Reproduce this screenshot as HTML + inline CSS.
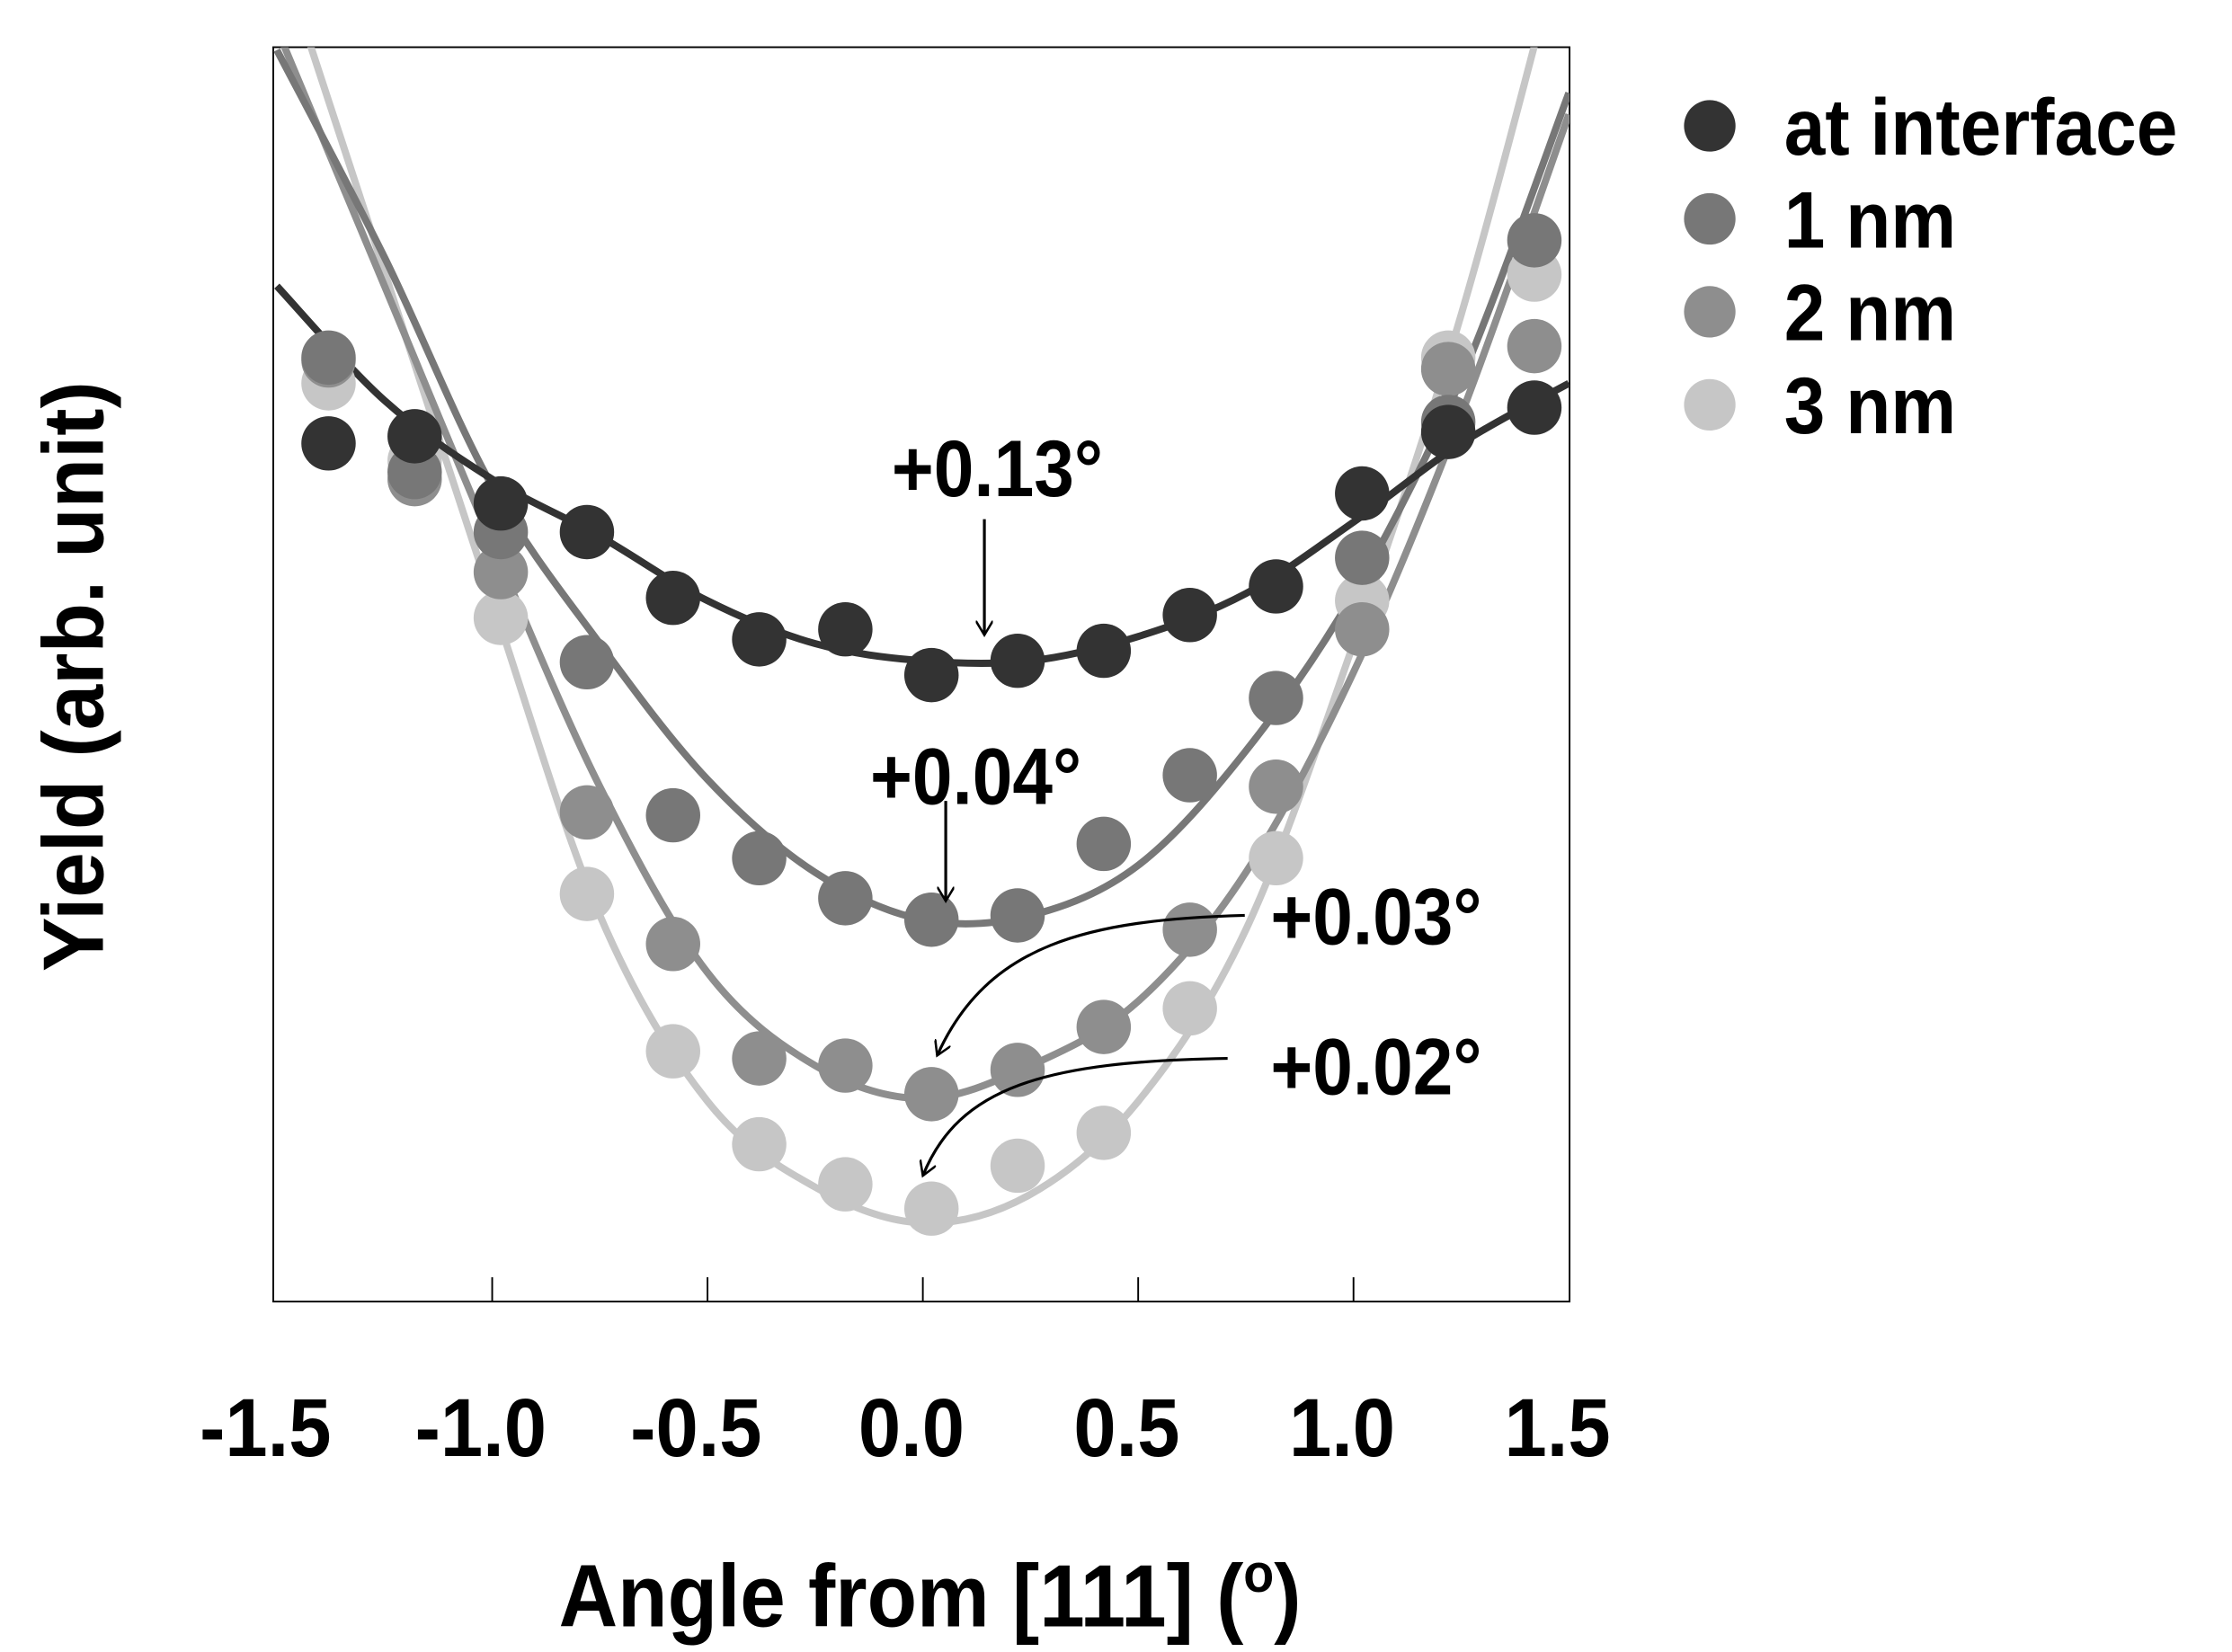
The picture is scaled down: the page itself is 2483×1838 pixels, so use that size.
<!DOCTYPE html>
<html><head><meta charset="utf-8"><style>
html,body{margin:0;padding:0;background:#fff;}
svg{display:block;}
text{font-family:"Liberation Sans",Arial,sans-serif;font-weight:bold;fill:#000;}
</style></head><body>
<svg id="chart" width="2483" height="1838" viewBox="0 0 1560 1155" preserveAspectRatio="none" xmlns="http://www.w3.org/2000/svg">
<defs><clipPath id="plotclip"><rect x="191" y="33" width="906" height="877"/></clipPath>
<marker id="ah" markerWidth="12" markerHeight="12" refX="10" refY="6" orient="auto" markerUnits="userSpaceOnUse"><path d="M0,0 L10,6 L0,12" fill="none" stroke="#000" stroke-width="1.6"/></marker></defs>
<rect x="191" y="33" width="906" height="877" fill="none" stroke="#000" stroke-width="1.2"/>
<g id="ticks"></g>
<g id="fits" clip-path="url(#plotclip)"></g>
<g id="points"></g>
<g font-size="56">
<text transform="translate(697,347) scale(0.9,1)" text-anchor="middle">+0.13°</text>
<line x1="688" y1="363" x2="688" y2="444" stroke="#000" stroke-width="2" marker-end="url(#ah)"/>
<text transform="translate(682,562) scale(0.9,1)" text-anchor="middle">+0.04°</text>
<line x1="661" y1="560" x2="661" y2="630" stroke="#000" stroke-width="2" marker-end="url(#ah)"/>
<text transform="translate(888,660) scale(0.9,1)">+0.03°</text>
<path d="M870,640 C760,643 690,660 655,738" fill="none" stroke="#000" stroke-width="2" marker-end="url(#ah)"/>
<text transform="translate(888,765) scale(0.9,1)">+0.02°</text>
<path d="M858,740 C730,742 670,760 645,822" fill="none" stroke="#000" stroke-width="2" marker-end="url(#ah)"/>
</g>
<g id="legend" font-size="56"></g>
<text transform="translate(72,473) rotate(-90) scale(0.95,1)" text-anchor="middle" font-size="60">Yield (arb. unit)</text>
<text transform="translate(650,1137) scale(0.92,1)" text-anchor="middle" font-size="62">Angle from [111] (<tspan font-size="38" dy="-24">o</tspan><tspan dy="24">)</tspan></text>
</svg>
<script>
const xTicks=[-1.5,-1.0,-0.5,0.0,0.5,1.0,1.5];
const xTickLabels=["-1.5","-1.0","-0.5","0.0","0.5","1.0","1.5"];
const seriesNames=["at interface","1 nm","2 nm","3 nm"];
const seriesColors=["#333333","#777777","#8e8e8e","#c6c6c6"];
const angles=[-1.38,-1.18,-0.98,-0.78,-0.58,-0.38,-0.18,0.02,0.22,0.42,0.62,0.82,1.02,1.22,1.42];
const interfaceVals=[600,605,558,538,492,463,470,438,448,455,480,500,565,608,625];
const nm1Vals=[660,580,538,447,340,310,282,267,270,320,368,422,520,615,742];
const nm2Vals=[658,575,510,342,250,170,165,145,162,192,260,360,470,652,668];
const nm3Vals=[642,588,478,285,175,110,82,65,95,118,205,310,490,660,718];
const fitAngles=[-1.5,-1.25,-1.0,-0.75,-0.5,-0.25,0,0.25,0.5,0.75,1.0,1.25,1.5];
const interfaceFit=[710,630,575,535,490,460,448,448,465,495,545,600,642];
const nm1Fit=[875,730,570,460,365,300,267,270,305,385,495,645,845];
const nm2Fit=[890,710,530,360,230,165,142,165,210,300,440,620,830];
const nm3Fit=[950,720,490,270,140,80,55,75,140,260,460,690,970];
const allVals=[interfaceVals,nm1Vals,nm2Vals,nm3Vals];
const allFits=[interfaceFit,nm1Fit,nm2Fit,nm3Fit];
const X=a=>645+a*301;
const Y=v=>910-v;
const NS="http://www.w3.org/2000/svg";
const mk=(t,attrs,parent)=>{const e=document.createElementNS(NS,t);for(const k in attrs)e.setAttribute(k,attrs[k]);parent.appendChild(e);return e;};
const ticks=document.getElementById('ticks');
xTicks.forEach((t,i)=>{
  if(i>0&&i<xTicks.length-1){const l=mk('line',{x1:X(t),x2:X(t),y1:893,y2:910,stroke:'#000','stroke-width':1.2},ticks);
  
  }
  const tx=mk('text',{transform:`translate(${X(t)-8},1018) scale(0.92,1)`,'text-anchor':'middle','font-size':58},ticks);
  tx.textContent=xTickLabels[i];
  
  
});
function smooth(pts){let d=`M${pts[0][0]},${pts[0][1]}`;for(let i=0;i<pts.length-1;i++){const p0=pts[Math.max(0,i-1)],p1=pts[i],p2=pts[i+1],p3=pts[Math.min(pts.length-1,i+2)];
d+=` C${p1[0]+(p2[0]-p0[0])/6},${p1[1]+(p2[1]-p0[1])/6} ${p2[0]-(p3[0]-p1[0])/6},${p2[1]-(p3[1]-p1[1])/6} ${p2[0]},${p2[1]}`;}return d;}
const fits=document.getElementById('fits'),points=document.getElementById('points');
[3,2,1,0].forEach(s=>{
  const p=mk('path',{d:smooth(fitAngles.map((a,i)=>[X(a),Y(allFits[s][i])])),fill:'none',stroke:seriesColors[s],'stroke-width':5},fits);
  
  
});
[3,2,1,0].forEach(s=>{
  allVals[s].forEach((v,i)=>{const c=mk('circle',{cx:X(angles[i]),cy:Y(v),r:19,fill:seriesColors[s]},points);
  
  });
});
const lg=document.getElementById('legend');
seriesNames.forEach((n,i)=>{const y=88+i*65;
  const c=mk('circle',{cx:1195,cy:y,r:18,fill:seriesColors[i]},lg);
  
  
  const t=mk('text',{transform:`translate(1247,${y+20}) scale(0.92,1)`},lg);t.textContent=n;
  
  
});
</script>
</body></html>
